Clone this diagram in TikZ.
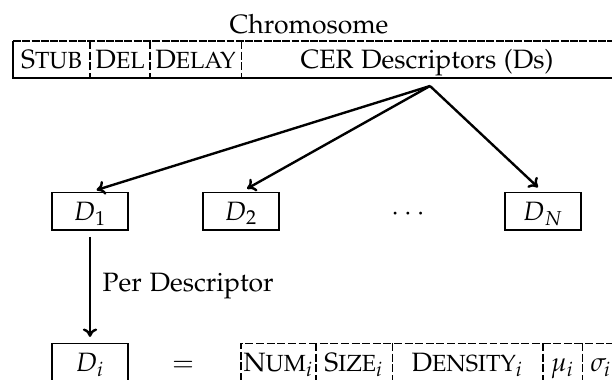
\documentclass[tikz,border=0pt]{standalone}
\usepackage[T1]{fontenc}
\usepackage[sc]{mathpazo}
\usetikzlibrary{arrows.meta}

% namaak-kapitaal: eerste letter groot, de rest iets kleiner
\newcommand{\kapitaal}[2]{#1{\fontsize{8.8pt}{10pt}\selectfont #2}}

\begin{document}
\begin{tikzpicture}[>={To[length=3.2pt, width=5.4pt]}, x=0.377pt, y=-0.377pt]

% --- Stijldefinities ---
\tikzset{
    vak/.style={
        inner sep=0pt,
        outer sep=0pt,
        text height=7pt,
        text depth=0pt
    },
    doos/.style={
        vak,
        draw,
        minimum width=28.65pt,
        minimum height=14.3pt
    },
    streep/.style={
        dash pattern=on 3pt off 1pt
    },
    pijl/.style={
        ->,
        line width=0.9pt,
        draw=black,
        shorten >=2.6pt
    }
}

\useasboundingbox (0,0) rectangle (612,379);

% --- Chromosoom (bovenste rij) ---
\node[anchor=base] (titel) at (309,33) {Chromosome};

\node[vak, minimum width=29.03pt, minimum height=13.95pt] (stub)  at (51.5,59.5) {\kapitaal{S}{TUB}};
\node[vak, minimum width=22.6pt,  minimum height=13.95pt] (del)   at (120,59.5)  {\kapitaal{D}{EL}};
\node[vak, minimum width=34.3pt,  minimum height=13.95pt] (delay) at (195.5,59.5) {\kapitaal{D}{ELAY}};
\node[vak, minimum width=140.2pt, minimum height=13.95pt] (cer)   at (427,59.5)  {CER Descriptors (Ds)};

% rand: links en onder doorgetrokken, boven en tussen gestreept
\draw (stub.north west) -- (stub.south west) -- (cer.south east) -- (cer.north east);
\draw[dash pattern=on 3pt off 0.5pt] (stub.north west) -- (cer.north east);
\draw[streep] (del.north west) -- (del.south west);
\draw[streep] (delay.north west) -- (delay.south west);
\draw[streep] (cer.north west) -- (cer.south west);

% --- Descriptoren ---
\coordinate (splits) at (430,86);

\node[doos] (d1) at (90,211)  {$D_1$};
\node[doos] (d2) at (241,211) {$D_2$};
\node[vak]  (punten) at (408,211) {$\cdots$};
\node[doos] (dn) at (543,211) {$D_N$};

\draw[pijl] (splits) -- (d1.north);
\draw[pijl] (splits) -- (d2.north);
\draw[pijl] (splits) -- (dn.north);

% --- Per descriptor ---
\node[doos] (di) at (90,362) {$D_i$};
\draw[pijl, shorten <=2.6pt, shorten >=2.3pt] (d1.south) -- (di.north)
    node[midway, right=1pt] (per) {Per Descriptor};

\node[vak] (is) at (183,362) {$=$};

% onderste rij (alles gestreept)
\node[vak, minimum width=28.3pt,  minimum height=14.3pt] (num)     at (278.5,362) {\kapitaal{N}{UM}$_i$};
\node[vak, minimum width=28.65pt, minimum height=14.3pt] (grootte) at (354,362)   {\kapitaal{S}{IZE}$_i$};
\node[vak, minimum width=56.9pt,  minimum height=14.3pt] (dichth)  at (467.5,362) {\kapitaal{D}{ENSITY}$_i$};
\node[vak, minimum width=14.7pt,  minimum height=14.3pt] (mu)      at (562.5,362) {$\mu_i$};
\node[vak, minimum width=14.3pt,  minimum height=14.3pt] (sigma)   at (601,362)   {$\sigma_i$};

\draw[streep] (num.south west) -- (num.north west) -- (sigma.north east);
\foreach \v in {grootte, dichth, mu, sigma}
    \draw[streep] (\v.north west) -- (\v.south west);

\end{tikzpicture}
\end{document}
